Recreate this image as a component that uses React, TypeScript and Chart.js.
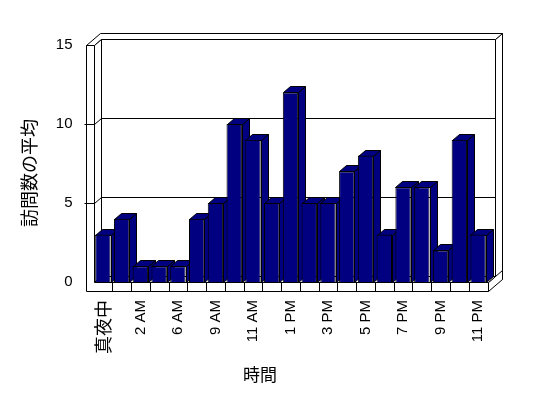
import React, { useEffect, useRef } from 'react';
import { Chart, registerables } from 'chart.js';

Chart.register(...registerables);

// ---- data ----
const hours: string[] = [
  '真夜中', '1 AM', '2 AM', '5 AM', '6 AM', '8 AM', '9 AM', '10 AM', '11 AM', '12 PM',
  '1 PM', '2 PM', '3 PM', '4 PM', '5 PM', '6 PM', '7 PM', '8 PM', '9 PM', '10 PM', '11 PM',
];
const avgVisits: number[] = [3, 4, 1, 1, 1, 4, 5, 10, 9, 5, 12, 5, 5, 7, 8, 3, 6, 6, 2, 9, 3];
const yTickValues: number[] = [0, 5, 10, 15];
const yTitle = '訪問数の平均';
const xTitle = '時間';

// ---- styles ----
const BAR_COLOR = '#000080';
const LINE = '#000000';
const DX = 7;
const DY = -6;
const WALL = 8;
const FLOOR = 9;
const LAT = "'Liberation Sans', Arial, 'Noto Sans CJK JP', sans-serif";
const CJK = "'Noto Sans CJK JP', sans-serif";

const snap = (v: number) => Math.round(v) + 0.5;

function poly(ctx: CanvasRenderingContext2D, pts: number[][], fill: string) {
  ctx.beginPath();
  ctx.moveTo(snap(pts[0][0]), snap(pts[0][1]));
  for (let i = 1; i < pts.length; i++) ctx.lineTo(snap(pts[i][0]), snap(pts[i][1]));
  ctx.closePath();
  ctx.fillStyle = fill;
  ctx.fill();
  ctx.stroke();
}

function line(ctx: CanvasRenderingContext2D, pts: number[][]) {
  ctx.beginPath();
  ctx.moveTo(snap(pts[0][0]), snap(pts[0][1]));
  for (let i = 1; i < pts.length; i++) ctx.lineTo(snap(pts[i][0]), snap(pts[i][1]));
  ctx.stroke();
}

const box3d = {
  id: 'box3d',
  beforeDatasetsDraw(chart: any) {
    const { ctx, chartArea: a, scales } = chart;
    const ys = scales.y;
    const xs = scales.x;
    const L = a.left, R = a.right, T = ys.getPixelForValue(15), B = ys.getPixelForValue(0);
    ctx.save();
    ctx.strokeStyle = LINE;
    ctx.lineWidth = 1;
    const W = '#ffffff';
    // back wall inner face
    poly(ctx, [[L + DX, T + DY], [R + DX, T + DY], [R + DX, B + DY], [L + DX, B + DY]], W);
    // back wall right face
    poly(ctx, [[R + DX, T + DY], [R + 2 * DX, T + 2 * DY], [R + 2 * DX, B + 2 * DY + FLOOR], [R + DX, B + DY]], W);
    // floor right side
    poly(ctx, [[R, B], [R + 2 * DX, B + 2 * DY], [R + 2 * DX, B + 2 * DY + FLOOR], [R, B + FLOOR]], W);
    // top face of walls
    poly(ctx, [[L - WALL, T], [L, T], [L + DX, T + DY], [R + DX, T + DY], [R + 2 * DX, T + 2 * DY], [L - WALL + 2 * DX, T + 2 * DY]], W);
    // left wall inner face
    poly(ctx, [[L, T], [L + DX, T + DY], [L + DX, B + DY], [L, B]], W);
    // floor top
    poly(ctx, [[L, B], [L + DX, B + DY], [R + DX, B + DY], [R, B]], W);
    // front faces of left wall + floor
    poly(ctx, [[L - WALL, T], [L, T], [L, B], [R, B], [R, B + FLOOR], [L - WALL, B + FLOOR]], W);
    // gridlines
    yTickValues.forEach((v) => {
      if (v === 0 || v === 15) return;
      const yy = ys.getPixelForValue(v);
      line(ctx, [[L - WALL - 2, yy], [L, yy], [L + DX, yy + DY], [R + DX, yy + DY]]);
    });
    // category separators on floor front
    for (let i = 1; i < hours.length; i++) {
      const xb = (xs.getPixelForValue(i - 1) + xs.getPixelForValue(i)) / 2;
      line(ctx, [[xb, B], [xb, B + FLOOR]]);
    }
    // bar side & top faces
    const meta = chart.getDatasetMeta(0);
    meta.data.forEach((el: any) => {
      const p = el.getProps(['x', 'y', 'base', 'width'], true);
      const l = p.x - p.width / 2;
      const r = p.x + p.width / 2;
      poly(ctx, [[r, p.y], [r + DX, p.y + DY], [r + DX, p.base + DY], [r, p.base]], BAR_COLOR);
      poly(ctx, [[l, p.y], [l + DX, p.y + DY], [r + DX, p.y + DY], [r, p.y]], BAR_COLOR);
    });
    ctx.restore();
  },
  afterDraw(chart: any) {
    const { ctx } = chart;
    ctx.save();
    ctx.fillStyle = '#000';
    ctx.textAlign = 'center';
    ctx.textBaseline = 'middle';
    ctx.font = `18px ${CJK}`;
    ctx.translate(29, 173);
    ctx.rotate(-Math.PI / 2);
    ctx.fillText(yTitle, 0, 0);
    ctx.restore();
    ctx.save();
    ctx.fillStyle = '#000';
    ctx.textAlign = 'center';
    ctx.textBaseline = 'middle';
    ctx.font = `17px ${CJK}`;
    ctx.fillText(xTitle, 260, 375);
    ctx.restore();
  },
};

export default function App() {
  const ref = useRef<HTMLCanvasElement | null>(null);
  useEffect(() => {
    if (!ref.current) return;
    const chart = new Chart(ref.current, {
      type: 'bar',
      data: {
        labels: hours,
        datasets: [
          {
            label: yTitle,
            data: avgVisits,
            backgroundColor: BAR_COLOR,
            borderColor: LINE,
            borderWidth: 1,
            barPercentage: 0.82,
            categoryPercentage: 1,
          },
        ],
      },
      plugins: [box3d],
      options: {
        responsive: false,
        animation: false,
        devicePixelRatio: 1,
        layout: { padding: { top: 45, right: 60.5, bottom: 0, left: 0 } },
        plugins: { legend: { display: false }, tooltip: { enabled: false } },
        scales: {
          x: {
            grid: { display: false, drawTicks: false },
            border: { display: false },
            afterFit: (s: any) => { s.height = 116; },
            ticks: {
              autoSkip: false,
              minRotation: 90,
              maxRotation: 90,
              padding: 18,
              color: '#000',
              font: (c: any) => (c.index === 0 ? { family: CJK, size: 18 } : { family: LAT, size: 15 }),
              callback: (_v: any, i: number) => (i % 2 === 0 ? hours[i] : ''),
            },
          },
          y: {
            min: 0,
            max: 15,
            grid: { display: false, drawTicks: false },
            border: { display: false },
            afterFit: (s: any) => { s.width = 93.5; },
            ticks: { stepSize: 5, padding: 21, color: '#000', font: { family: LAT, size: 15 } },
          },
        },
      },
    });
    return () => chart.destroy();
  }, []);
  return (
    <div style={{ position: 'fixed', left: 0, top: 0, width: 548, height: 398, background: '#fff' }}>
      <canvas ref={ref} width={548} height={398} />
    </div>
  );
}
